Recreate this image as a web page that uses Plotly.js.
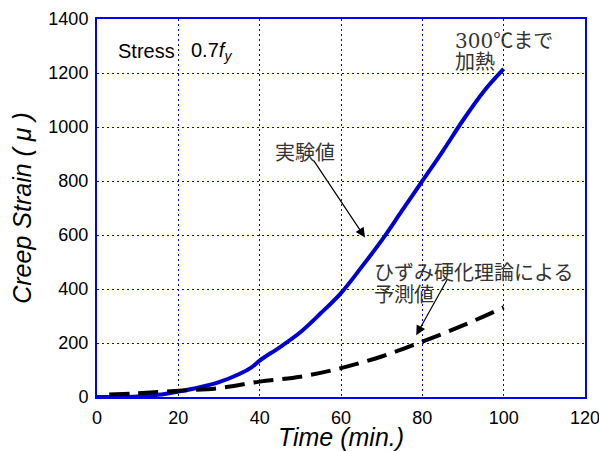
<!DOCTYPE html>
<html><head><meta charset="utf-8">
<script src="https://cdn.plot.ly/plotly-3.0.1.min.js"></script>
<style>html,body{margin:0;padding:0;background:#fff;}#chart{width:599px;height:451px;}</style>
</head><body><div id="chart"></div>
<script>
// Experimental (実験値)
const expTime = [0, 5, 10, 15, 20, 25, 30, 35, 38, 40, 45, 50, 55, 60, 65, 70, 75, 80, 85, 90, 95, 100];
const expStrain = [0, 0, 2, 8, 20, 35, 55, 85, 110, 135, 185, 240, 310, 385, 480, 580, 690, 800, 910, 1025, 1130, 1215];
// Strain-hardening prediction (予測値)
const predTime = [3, 10, 20, 30, 40, 50, 60, 70, 80, 90, 100];
const predStrain = [9, 14, 23, 33, 57, 75, 107, 150, 205, 265, 332];
const xTicks = [0, 20, 40, 60, 80, 100, 120];
const yTicks = [0, 200, 400, 600, 800, 1000, 1200, 1400];

const blue = '#0000cc';
const gridBlue = '#0000ff';
const traces = [
  {x: expTime, y: expStrain, mode: 'lines', line: {color: blue, width: 4, shape: 'spline'}, showlegend: false, hoverinfo: 'skip'},
  {x: predTime, y: predStrain, mode: 'lines', line: {color: '#000', width: 4, dash: '20px,9px', shape: 'spline'}, showlegend: false, hoverinfo: 'skip'}
];
const axisCommon = {
  showline: true, linecolor: gridBlue, linewidth: 2, mirror: true,
  showgrid: true, gridcolor: gridBlue, griddash: '2px,3px', gridwidth: 1,
  zeroline: false, ticks: '', ticklabelstandoff: 3, ticklabeloverflow: 'allow',
  tickfont: {family: 'Liberation Sans, Arial', size: 18, color: '#000'}
};
const jp = {family: 'Noto Sans CJK JP', size: 20, color: '#333'};
const layout = {
  width: 599, height: 451,
  margin: {l: 97, r: 14, t: 19, b: 54},
  paper_bgcolor: '#fff', plot_bgcolor: '#fff',
  xaxis: Object.assign({}, axisCommon, {range: [0, 120], tickvals: xTicks, ticktext: xTicks.map(String),
    title: {text: '<i>Time (min.)</i>', font: {family: 'Liberation Sans, Arial', size: 25, color: '#000'}, standoff: 2}}),
  yaxis: Object.assign({}, axisCommon, {range: [0, 1400], tickvals: yTicks, ticktext: yTicks.map(String),
    title: {text: '<i>Creep Strain ( μ )</i>', font: {family: 'Liberation Sans, Arial', size: 25, color: '#000'}, standoff: 10}}),
  annotations: [
    {x: 4.7, y: 1280, xref: 'x', yref: 'y', xanchor: 'left', yanchor: 'middle', showarrow: false,
     text: 'Stress', font: {family: 'Liberation Sans, Arial', size: 20, color: '#000'}},
    {x: 22.6, y: 1280, xref: 'x', yref: 'y', xanchor: 'left', yanchor: 'middle', showarrow: false,
     text: '0.7<i>f</i><sub><i>y</i></sub>', font: {family: 'Liberation Sans, Arial', size: 20, color: '#000'}},
    {x: 87.5, y: 1325, xref: 'x', yref: 'y', xanchor: 'left', yanchor: 'middle', showarrow: false,
     text: '<span style="font-family:DejaVu Serif">300</span>℃まで', font: jp},
    {x: 87.5, y: 1245, xref: 'x', yref: 'y', xanchor: 'left', yanchor: 'middle', showarrow: false,
     text: '加熱', font: jp},
    {x: 65.9, y: 591, ax: 53.1, ay: 880, xref: 'x', yref: 'y', axref: 'x', ayref: 'y', showarrow: true,
     arrowhead: 2, arrowsize: 1.6, arrowwidth: 1.2, arrowcolor: '#000', text: ''},
    {x: 43.4, y: 910, xref: 'x', yref: 'y', xanchor: 'left', yanchor: 'middle', showarrow: false,
     text: '実験値', font: jp},
    {x: 78.5, y: 229, ax: 86.3, ay: 440, xref: 'x', yref: 'y', axref: 'x', ayref: 'y', showarrow: true,
     arrowhead: 2, arrowsize: 1.6, arrowwidth: 1.2, arrowcolor: '#000', text: ''},
    {x: 67.7, y: 465, xref: 'x', yref: 'y', xanchor: 'left', yanchor: 'middle', showarrow: false,
     text: 'ひずみ硬化理論による', font: jp},
    {x: 67.7, y: 384, xref: 'x', yref: 'y', xanchor: 'left', yanchor: 'middle', showarrow: false,
     text: '予測値', font: jp}
  ]
};
Plotly.newPlot('chart', traces, layout, {staticPlot: true});
</script></body></html>
